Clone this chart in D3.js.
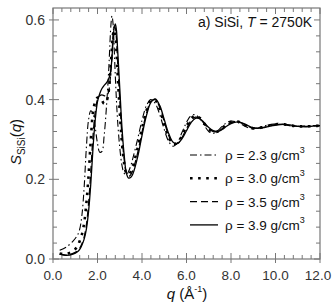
<!DOCTYPE html>
<html lang="en">
<head>
<meta charset="utf-8">
<script src="https://d3js.org/d3.v7.min.js"></script>
<style>
  body { margin: 0; background: #fff; }
  svg text { font-family: "Liberation Sans", Arial, sans-serif; }
</style>
</head>
<body>
<svg id="chart" width="332" height="305"></svg>
<script>
// q grid (1/Angstrom) shared by all curves
var qValues = [0.3, 0.6, 0.9, 1.1, 1.2, 1.3, 1.4, 1.5, 1.6, 1.7, 1.8, 1.9, 2.0, 2.1, 2.2, 2.3, 2.4, 2.5, 2.55, 2.6,
  2.65, 2.7, 2.75, 2.8, 2.85, 2.9, 3.0, 3.1, 3.2, 3.3, 3.4, 3.5, 3.6, 3.8, 4.0, 4.2, 4.4, 4.6, 4.8, 5.0,
  5.2, 5.4, 5.6, 5.8, 6.0, 6.2, 6.4, 6.6, 6.8, 7.0, 7.2, 7.4, 7.6, 7.8, 8.0, 8.3, 8.6, 8.9, 9.2, 9.5,
  9.8, 10.1, 10.4, 10.7, 11.0, 11.4, 11.8, 12.0];

var s23 = [0.022, 0.03, 0.045, 0.06, 0.075, 0.11, 0.18, 0.28, 0.35, 0.372, 0.365, 0.33, 0.29, 0.268, 0.27, 0.31, 0.38, 0.47, 0.53, 0.585,
  0.61, 0.59, 0.53, 0.46, 0.4, 0.35, 0.28, 0.235, 0.215, 0.212, 0.22, 0.235, 0.255, 0.3, 0.348, 0.385, 0.4, 0.39, 0.362, 0.325,
  0.295, 0.283, 0.293, 0.318, 0.343, 0.36, 0.362, 0.352, 0.335, 0.32, 0.315, 0.322, 0.333, 0.342, 0.346, 0.343, 0.334, 0.327, 0.329, 0.334,
  0.338, 0.339, 0.337, 0.334, 0.333, 0.334, 0.335, 0.335];

var s30 = [0.014, 0.013, 0.02, 0.032, 0.045, 0.062, 0.09, 0.14, 0.21, 0.3, 0.37, 0.395, 0.405, 0.405, 0.398, 0.39, 0.395, 0.42, 0.45, 0.49,
  0.53, 0.565, 0.575, 0.56, 0.525, 0.47, 0.37, 0.29, 0.24, 0.215, 0.212, 0.22, 0.235, 0.278, 0.328, 0.372, 0.398, 0.398, 0.375, 0.338,
  0.305, 0.288, 0.292, 0.31, 0.333, 0.352, 0.36, 0.354, 0.34, 0.326, 0.318, 0.32, 0.329, 0.338, 0.344, 0.345, 0.337, 0.329, 0.328, 0.332,
  0.336, 0.339, 0.338, 0.335, 0.333, 0.333, 0.334, 0.335];

var s35 = [0.012, 0.01, 0.014, 0.02, 0.027, 0.038, 0.055, 0.085, 0.14, 0.22, 0.31, 0.37, 0.40, 0.41, 0.412, 0.41, 0.408, 0.42, 0.44, 0.47,
  0.51, 0.56, 0.583, 0.58, 0.555, 0.5, 0.4, 0.31, 0.25, 0.215, 0.207, 0.212, 0.225, 0.265, 0.318, 0.365, 0.395, 0.4, 0.38, 0.345,
  0.31, 0.29, 0.29, 0.305, 0.327, 0.347, 0.356, 0.352, 0.34, 0.327, 0.32, 0.32, 0.327, 0.336, 0.342, 0.345, 0.338, 0.33, 0.328, 0.331,
  0.335, 0.338, 0.338, 0.335, 0.333, 0.333, 0.334, 0.335];

var s39 = [0.012, 0.009, 0.012, 0.018, 0.024, 0.035, 0.05, 0.075, 0.12, 0.19, 0.28, 0.35, 0.395, 0.415, 0.428, 0.436, 0.442, 0.452, 0.46, 0.475,
  0.505, 0.55, 0.58, 0.59, 0.575, 0.53, 0.43, 0.33, 0.26, 0.215, 0.203, 0.205, 0.215, 0.255, 0.31, 0.36, 0.393, 0.402, 0.385, 0.35,
  0.315, 0.293, 0.29, 0.302, 0.322, 0.342, 0.353, 0.352, 0.342, 0.33, 0.322, 0.32, 0.325, 0.333, 0.34, 0.344, 0.339, 0.331, 0.328, 0.33,
  0.334, 0.337, 0.338, 0.336, 0.333, 0.332, 0.334, 0.335];

var legendLabels = ["2.3", "3.0", "3.5", "3.9"];
var xTicks = [0, 2, 4, 6, 8, 10, 12];
var yTicks = [0, 0.2, 0.4, 0.6];

var svg = d3.select("#chart");
var axisColor = "#777";
var textColor = "#333";

var x = d3.scaleLinear().domain([0, 12]).range([53, 320]);
var y = d3.scaleLinear().domain([0, 0.63]).range([259, 8]);

var styles = [
  { data: s23, width: 1.1, dash: "7,3,1.5,3" },
  { data: s30, width: 2.6, dash: "2.6,5.5" },
  { data: s35, width: 1.3, dash: "7,4" },
  { data: s39, width: 1.3, dash: null }
];

/* frame */
svg.append("rect")
    .attr("x", x(0)).attr("y", y(0.63))
    .attr("width", x(12) - x(0)).attr("height", y(0) - y(0.63))
    .attr("fill", "none").attr("stroke", axisColor).attr("stroke-width", 1.2);

/* ticks pointing inward, on all four sides */
var xMinor = d3.range(0, 12.01, 0.4);
var yMinor = d3.range(0, 0.621, 0.04);

function isMajor(v, step) { return Math.abs(v / step - Math.round(v / step)) < 1e-6; }

var tg = svg.append("g").attr("stroke", axisColor).attr("stroke-width", 1);
xMinor.forEach(function(v) {
  var len = isMajor(v, 2) ? 6 : 4;
  tg.append("line").attr("x1", x(v)).attr("x2", x(v)).attr("y1", y(0)).attr("y2", y(0) - len);
  tg.append("line").attr("x1", x(v)).attr("x2", x(v)).attr("y1", y(0.63)).attr("y2", y(0.63) + len);
});
xTicks.forEach(function(v) {
  tg.append("line").attr("x1", x(v)).attr("x2", x(v)).attr("y1", y(0)).attr("y2", y(0) + 4);
});
yMinor.forEach(function(v) {
  var len = isMajor(v, 0.2) ? 6 : 4;
  tg.append("line").attr("x1", x(0)).attr("x2", x(0) + len).attr("y1", y(v)).attr("y2", y(v));
  tg.append("line").attr("x1", x(12)).attr("x2", x(12) - len).attr("y1", y(v)).attr("y2", y(v));
});
yTicks.forEach(function(v) {
  tg.append("line").attr("x1", x(0) - 4).attr("x2", x(0)).attr("y1", y(v)).attr("y2", y(v));
});

/* tick labels */
svg.append("g").selectAll("text").data(xTicks).enter().append("text")
    .attr("x", function(d) { return Math.min(x(d), 318); })
    .attr("y", 280)
    .attr("text-anchor", "middle")
    .attr("font-size", 13.5)
    .attr("fill", textColor)
    .text(function(d) { return d.toFixed(1); });

svg.append("g").selectAll("text").data(yTicks).enter().append("text")
    .attr("x", 45)
    .attr("y", function(d) { return y(d) + 5; })
    .attr("text-anchor", "end")
    .attr("font-size", 14)
    .attr("fill", textColor)
    .text(function(d) { return d.toFixed(1); });

/* curves */
var line = d3.line()
    .x(function(d) { return x(d[0]); })
    .y(function(d) { return y(d[1]); })
    .curve(d3.curveCatmullRom);

var plot = svg.append("g");
styles.forEach(function(s) {
  var pts = qValues.map(function(q, i) { return [q, s.data[i]]; });
  plot.append("path")
      .attr("d", line(pts))
      .attr("fill", "none")
      .attr("stroke", "#000")
      .attr("stroke-width", s.width)
      .attr("stroke-dasharray", s.dash);
});

/* annotation */
var ann = svg.append("text")
    .attr("x", 312).attr("y", 27)
    .attr("text-anchor", "end")
    .attr("font-size", 14)
    .attr("fill", "#111");
ann.append("tspan").text("a) SiSi, ");
ann.append("tspan").attr("font-style", "italic").text("T");
ann.append("tspan").text(" = 2750K");

/* legend */
var legend = svg.append("g");
legendLabels.forEach(function(lab, i) {
  var ly = 155 + i * 23.3;
  legend.append("line")
      .attr("x1", 190).attr("x2", 218)
      .attr("y1", ly).attr("y2", ly)
      .attr("stroke", "#000")
      .attr("stroke-width", styles[i].width)
      .attr("stroke-dasharray", styles[i].dash);
  var t = legend.append("text")
      .attr("x", 225).attr("y", ly + 5)
      .attr("font-size", 13.5)
      .attr("fill", "#111");
  t.append("tspan").text("\u03c1 = " + lab + " g/cm");
  t.append("tspan").attr("font-size", 9).attr("dy", -7).text("3");
});

/* axis titles */
var yl = svg.append("text")
    .attr("transform", "translate(21,142) rotate(-90)")
    .attr("text-anchor", "middle")
    .attr("font-size", 15)
    .attr("fill", "#111");
yl.append("tspan").attr("font-style", "italic").text("S");
yl.append("tspan").attr("font-size", 10).attr("dy", 4).text("SiSi");
yl.append("tspan").attr("dy", -4).text("(");
yl.append("tspan").attr("font-style", "italic").text("q");
yl.append("tspan").text(")");

var xl = svg.append("text")
    .attr("x", 187).attr("y", 299)
    .attr("text-anchor", "middle")
    .attr("font-size", 15)
    .attr("fill", "#111");
xl.append("tspan").attr("font-style", "italic").text("q");
xl.append("tspan").text(" (\u00c5");
xl.append("tspan").attr("font-size", 9).attr("dy", -7).text("-1");
xl.append("tspan").attr("dy", 7).text(")");
</script>
</body>
</html>
